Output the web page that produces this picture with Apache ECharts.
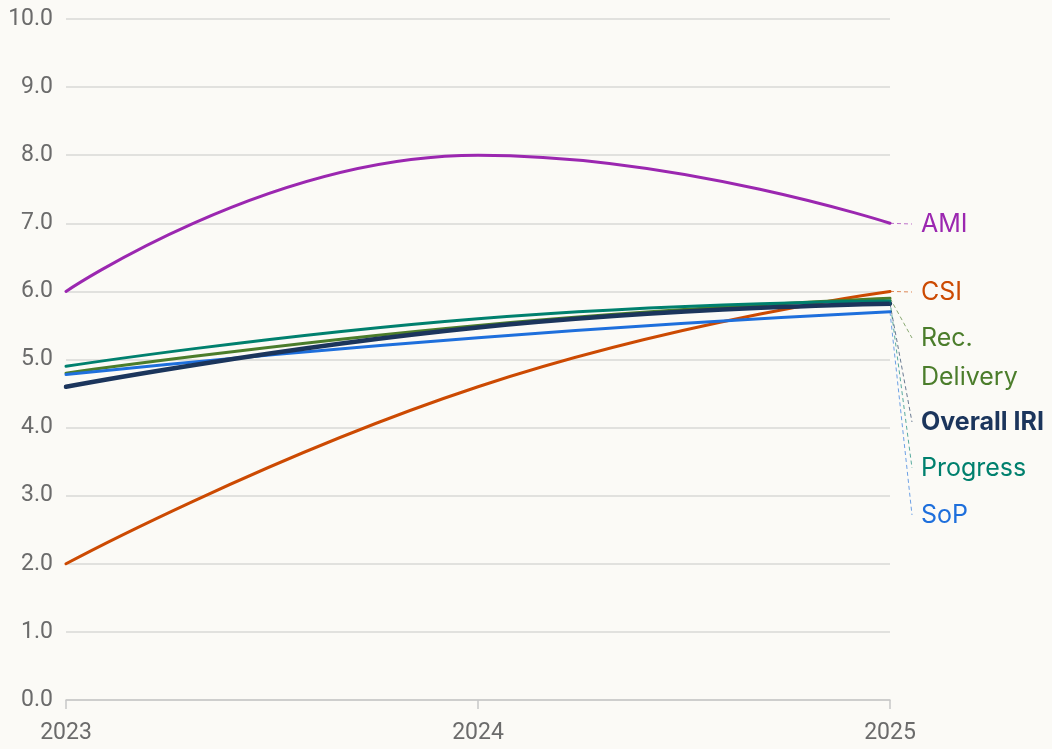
<!DOCTYPE html>
<html>
<head>
<meta charset="utf-8">
<style>
  html, body { margin: 0; padding: 0; background: #fbfaf6; }
  #chart { width: 1052px; height: 749px; }
</style>
<script src="https://cdn.jsdelivr.net/npm/echarts@6/dist/echarts.min.js"></script>
</head>
<body>
<div id="chart"></div>
<script>
// data
var years = ['2023', '2024', '2025'];
var ami = [6.0, 8.0, 7.0];
var csi = [2.0, 4.6, 6.0];
var recDelivery = [4.8, 5.5, 5.9];
var overallIri = [4.6, 5.47, 5.82];
var progress = [4.9, 5.6, 5.86];
var sop = [4.78, 5.32, 5.7];
var yTicks = [0, 10, 1];

// series look + where the end labels sit (pixels)
var seriesDefs = [
  { name: 'AMI', label: 'AMI', data: ami, color: '#9b27b0', width: 3, labelY: 224, bold: false },
  { name: 'CSI', label: 'CSI', data: csi, color: '#cc4a02', width: 3, labelY: 292, bold: false },
  { name: 'Rec. Delivery', label: 'Rec.\nDelivery', data: recDelivery, color: '#4b7d2b', width: 3, labelY: 338, bold: false },
  { name: 'Progress', label: 'Progress', data: progress, color: '#00806e', width: 3, labelY: 468, bold: false },
  { name: 'SoP', label: 'SoP', data: sop, color: '#1e6fdc', width: 3, labelY: 515, bold: false },
  { name: 'Overall IRI', label: 'Overall IRI', data: overallIri, color: '#1b355c', width: 4.5, labelY: 422, bold: true }
];

var chart = echarts.init(document.getElementById('chart'));

var series = seriesDefs.map(function (d) {
  var last = d.data.length - 1;
  return {
    name: d.name,
    type: 'line',
    data: d.data,
    smooth: 0.5,
    symbol: 'none',
    lineStyle: { color: d.color, width: d.width, cap: 'round' },
    itemStyle: { color: d.color },
    markLine: {
      silent: true,
      symbol: ['none', 'none'],
      label: { show: false },
      lineStyle: { color: d.color, type: [4, 3], width: 1, opacity: 0.65 },
      data: [[{ coord: [years[last], d.data[last]] }, { x: 912, y: d.labelY }]]
    }
  };
});

var graphics = seriesDefs.map(function (d) {
  return {
    type: 'text',
    x: 921,
    y: d.labelY - 19.5,
    style: {
      text: d.label,
      fill: d.color,
      font: (d.bold ? 'bold ' : '') + '25px Inter, Roboto, sans-serif',
      lineHeight: 39,
      verticalAlign: 'top'
    }
  };
});

chart.setOption({
  backgroundColor: '#fbfaf6',
  animation: false,
  textStyle: { fontFamily: 'Roboto' },
  grid: { left: 66, right: 162, top: 19, bottom: 49, containLabel: false },
  xAxis: {
    type: 'category',
    data: years,
    boundaryGap: false,
    axisLine: { lineStyle: { color: '#c8c8c8', width: 1.5 } },
    axisTick: { show: true, length: 9, lineStyle: { color: '#c8c8c8', width: 1.5 } },
    axisLabel: { color: '#6b6b6b', fontSize: 23, margin: 22, fontFamily: 'Roboto' },
    splitLine: { show: false }
  },
  yAxis: {
    type: 'value',
    min: yTicks[0],
    max: yTicks[1],
    interval: yTicks[2],
    axisLine: { show: false },
    axisTick: { show: false },
    axisLabel: {
      color: '#6b6b6b',
      fontSize: 23,
      margin: 13,
      fontFamily: 'Roboto',
      formatter: function (v) { return v.toFixed(1); }
    },
    splitLine: { lineStyle: { color: '#d9d9d6', width: 1.5 } }
  },
  series: series,
  graphic: graphics
});
</script>
</body>
</html>
